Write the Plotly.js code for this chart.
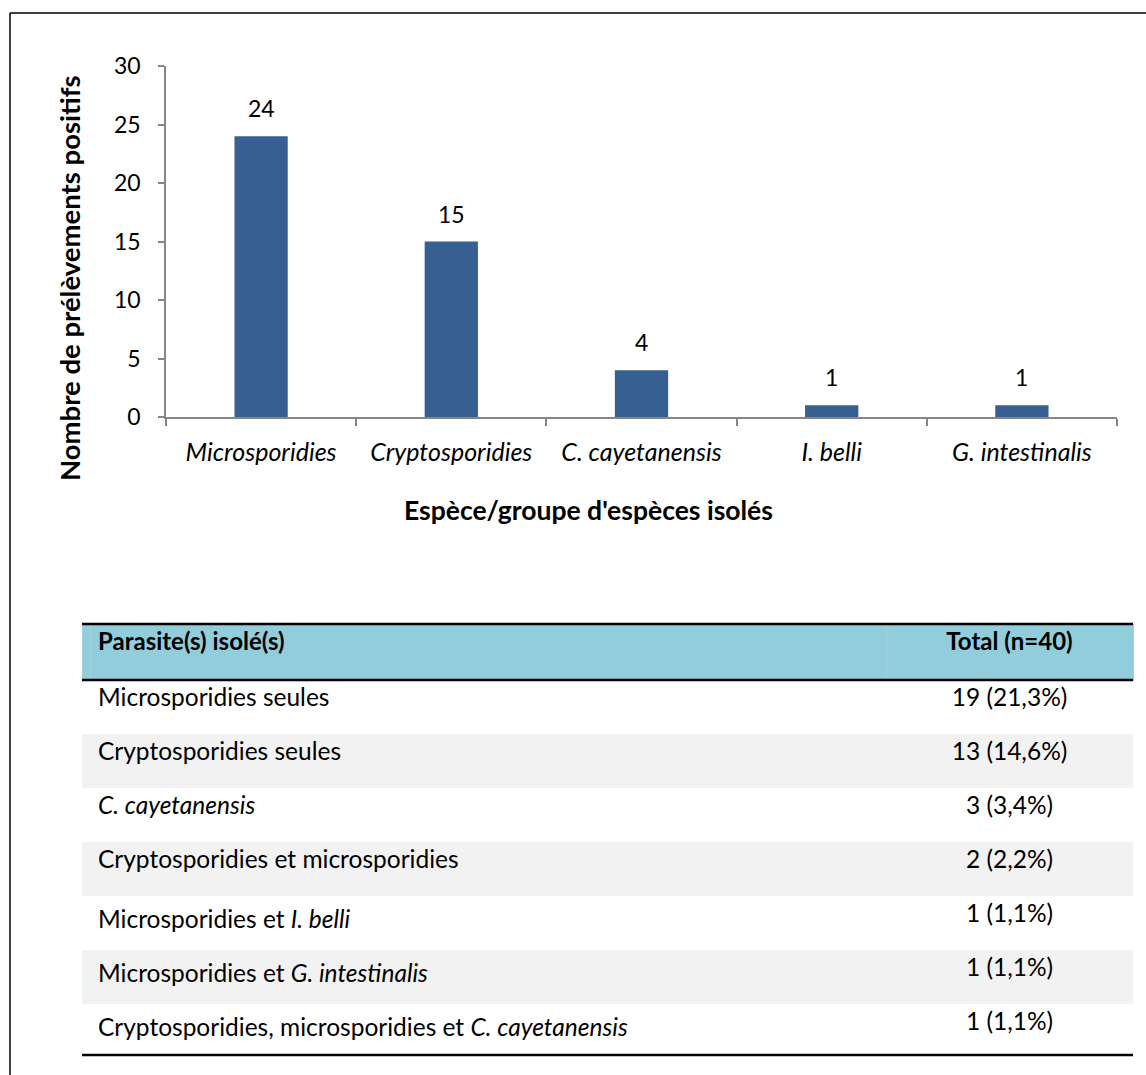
<!DOCTYPE html>
<html>
<head>
<meta charset="utf-8">
<script src="https://cdn.plot.ly/plotly-3.0.1.min.js"></script>
<style>html,body{margin:0;padding:0;background:#fff;}</style>
</head>
<body>
<div id="chart" style="width:1146px;height:1075px;"></div>
<script>
// ---- data ----
var categories = ['Microsporidies', 'Cryptosporidies', 'C. cayetanensis', 'I. belli', 'G. intestinalis'];
var counts = [24, 15, 4, 1, 1];
var yTickValues = [0, 5, 10, 15, 20, 25, 30];

var tableHeader = ['Parasite(s) isolé(s)', 'Total (n=40)'];
var tableParasites = [
  'Microsporidies seules',
  'Cryptosporidies seules',
  'C. cayetanensis',
  'Cryptosporidies et microsporidies',
  'Microsporidies et <i>I. belli</i>',
  'Microsporidies et <i>G. intestinalis</i>',
  'Cryptosporidies, microsporidies et <i>C. cayetanensis</i>'
];
var tableParasiteStyles = ['normal', 'normal', 'italic', 'normal', 'normal', 'normal', 'normal'];
var tableTotals = ['19 (21,3%)', '13 (14,6%)', '3 (3,4%)', '2 (2,2%)', '1 (1,1%)', '1 (1,1%)', '1 (1,1%)'];

// ---- helpers ----
var W = 1146, H = 1075;
function px(x) { return x / W; }
function py(y) { return 1 - y / H; }
var FONT = 'Lato, "Open Sans", sans-serif';

var rowFill = tableParasites.map(function (_, i) { return i % 2 === 0 ? '#FFFFFF' : '#F2F2F2'; });
var blanks = tableParasites.map(function () { return ''; });
var normals = tableParasites.map(function () { return 'normal'; });

var bar = {
  type: 'bar',
  x: categories,
  y: counts,
  width: 0.28,
  marker: { color: '#375F91' },
  hoverinfo: 'x+y',
  showlegend: false
};

var table = {
  type: 'table',
  domain: { x: [px(82), px(1133)], y: [py(1058), py(624)] },
  columnwidth: [8, 796, 247],
  header: {
    values: ['', tableHeader[0], tableHeader[1]],
    align: ['left', 'left', 'center'],
    height: 56,
    fill: { color: '#92CDDC' },
    line: { color: '#9FD3E0', width: 1 },
    font: { family: FONT, size: 24, color: '#000', weight: 'bold' }
  },
  cells: {
    values: [blanks, tableParasites, tableTotals],
    align: ['left', 'left', 'center'],
    height: 54,
    fill: { color: [rowFill] },
    line: { color: [rowFill], width: 0 },
    font: { family: FONT, size: 24.5, color: '#000', style: [normals, tableParasiteStyles, normals] }
  }
};

var annotations = categories.map(function (c, i) {
  return {
    x: c, y: counts[i], xref: 'x', yref: 'y',
    text: String(counts[i]), showarrow: false,
    yshift: 28,
    font: { family: FONT, size: 23, color: '#000' }
  };
});
annotations.push({
  xref: 'paper', yref: 'paper', x: px(70), y: py(278),
  xanchor: 'center', yanchor: 'middle',
  text: '<b>Nombre de prélèvements positifs</b>', textangle: -90, showarrow: false,
  font: { family: FONT, size: 27.5, color: '#000' }
});
annotations.push({
  xref: 'paper', yref: 'paper', x: px(588), y: py(510),
  xanchor: 'center', yanchor: 'middle',
  text: "<b>Espèce/groupe d'espèces isolés</b>", showarrow: false,
  font: { family: FONT, size: 26.5, color: '#000' }
});

var shapes = [
  // outer frame (left + top visible)
  { type: 'line', xref: 'paper', yref: 'paper', x0: px(10), x1: 1.01, y0: py(13), y1: py(13), line: { color: '#000', width: 1.5 } },
  { type: 'line', xref: 'paper', yref: 'paper', x0: px(10), x1: px(10), y0: py(13), y1: -0.01, line: { color: '#000', width: 1.5 } },
  // table rules
  { type: 'line', xref: 'paper', yref: 'paper', x0: px(82), x1: px(1133), y0: py(624), y1: py(624), line: { color: '#000', width: 2.5 } },
  { type: 'line', xref: 'paper', yref: 'paper', x0: px(82), x1: px(1133), y0: py(680), y1: py(680), line: { color: '#000', width: 2.5 } },
  { type: 'line', xref: 'paper', yref: 'paper', x0: px(82), x1: px(1133), y0: py(1055), y1: py(1055), line: { color: '#000', width: 2.5 } }
];

var layout = {
  width: W, height: H,
  margin: { l: 0, r: 0, t: 0, b: 0 },
  paper_bgcolor: '#fff', plot_bgcolor: '#fff',
  showlegend: false,
  bargap: 0.72,
  xaxis: {
    domain: [px(166), px(1117)],
    type: 'category',
    tickson: 'boundaries',
    ticks: 'outside', ticklen: 7, tickcolor: '#868686', tickwidth: 1.5,
    showline: true, linecolor: '#868686', linewidth: 1.5,
    showgrid: false, zeroline: false,
    tickfont: { family: FONT, size: 25, color: '#000', style: 'italic' },
    ticklabelstandoff: 12
  },
  yaxis: {
    domain: [py(417), py(66)],
    range: [0, 30],
    tickvals: yTickValues,
    ticks: 'outside', ticklen: 6, tickcolor: '#868686', tickwidth: 1.5,
    showline: true, linecolor: '#868686', linewidth: 1.5,
    showgrid: false, zeroline: false,
    tickfont: { family: FONT, size: 23, color: '#000' },
    ticklabelstandoff: 13
  },
  annotations: annotations,
  shapes: shapes
};

Plotly.newPlot('chart', [bar, table], layout, { displayModeBar: false });
</script>
</body>
</html>
